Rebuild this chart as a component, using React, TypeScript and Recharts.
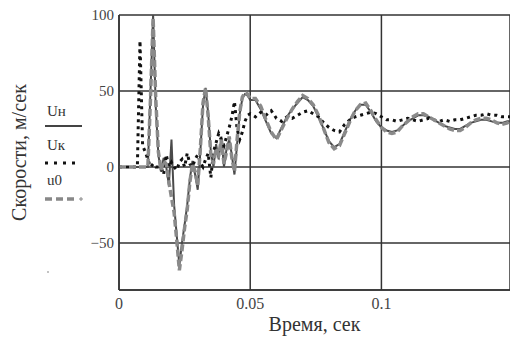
import React from "react";
import {
  LineChart,
  Line,
  CartesianGrid,
  XAxis,
  YAxis,
  Legend,
  Text,
} from "recharts";

// time grid, sec (1 ms steps up to 0.049, then 2 ms)
const times = [
  0, 0.001, 0.002, 0.003, 0.004, 0.005, 0.006, 0.007, 0.008, 0.009,
  0.01, 0.011, 0.012, 0.013, 0.014, 0.015, 0.016, 0.017, 0.018, 0.019,
  0.02, 0.021, 0.022, 0.023, 0.024, 0.025, 0.026, 0.027, 0.028, 0.029,
  0.03, 0.031, 0.032, 0.033, 0.034, 0.035, 0.036, 0.037, 0.038, 0.039,
  0.04, 0.041, 0.042, 0.043, 0.044, 0.045, 0.046, 0.047, 0.048, 0.049,
  0.05, 0.052, 0.054, 0.056, 0.058, 0.06, 0.062, 0.064, 0.066, 0.068,
  0.07, 0.072, 0.074, 0.076, 0.078, 0.08, 0.082, 0.084, 0.086, 0.088,
  0.09, 0.092, 0.094, 0.096, 0.098, 0.1, 0.102, 0.104, 0.106, 0.108,
  0.11, 0.112, 0.114, 0.116, 0.118, 0.12, 0.122, 0.124, 0.126, 0.128,
  0.13, 0.132, 0.134, 0.136, 0.138, 0.14, 0.142, 0.144, 0.146, 0.148,
  0.149,
];

const uN = [
  0, 0, 0, 0, 0, 0, 0, 0, 0, 0,
  0, 0, 50, 100, 40, 8, -3, 6, 0, -12,
  18, -25, -45, -65, -50, -38, -25, -8, 4, -5,
  -15, 10, 40, 52, 35, 10, 0, 15, 5, 20,
  0, 12, 18, 8, -5, 15, 35, 45, 48, 47,
  44, 44, 38, 30, 22, 19, 26, 33, 38, 42,
  46, 44, 40, 33, 25, 17, 13, 15, 23, 31,
  37, 41, 41, 36, 30, 26, 24, 23, 24, 27,
  30, 32, 34, 34, 33, 31, 29, 27, 26, 25,
  25, 27, 29, 30, 31, 31, 30, 29, 29, 30,
  30,
];

const uK = [
  0, 0, 0, 0, 0, 0, 0, 0, 83, 14,
  10, 5, 0, 2, 0, 0, 0, -5, 8, 0,
  3, 0, -2, 3, 5, 0, 9, 2, 0, 5,
  8, 3, 0, 5, 9, -7, 10, 16, 22, 18,
  14, 20, 26, 33, 43, 25, 18, 23, 30, 34,
  35, 33, 36, 34, 37, 32, 30, 33, 32, 34,
  36, 37, 35, 33, 29, 26, 24, 23, 28, 31,
  33, 34, 35, 36, 35, 33, 31, 31, 30, 31,
  32, 31, 30, 31, 32, 31, 30, 31, 30, 31,
  31, 32, 33, 34, 34, 35, 34, 34, 33, 33,
  33,
];

const u0 = [
  0, 0, 0, 0, 0, 0, 0, 0, 0, 0,
  0, 0, 45, 98, 45, 10, -2, 4, 2, -10,
  -20, -30, -48, -68, -55, -40, -28, -10, 2, -3,
  -12, 12, 42, 52, 33, 8, 2, 12, 8, 18,
  2, 10, 20, 6, -3, 18, 36, 46, 49, 48,
  45, 45, 40, 31, 23, 18, 25, 32, 38, 43,
  47, 45, 41, 34, 25, 16, 12, 14, 22, 30,
  37, 41, 42, 37, 31, 26, 23, 22, 23, 27,
  30, 33, 35, 35, 33, 31, 29, 27, 25, 24,
  24, 26, 29, 31, 32, 32, 31, 29, 28, 29,
  30,
];

const seriesNames = ["Uн", "Uк", "u0"];
const xTicks = [0, 0.05, 0.1];
const yTicks = [-50, 0, 50, 100];

const data = times.map((t, i) => ({ t, uN: uN[i], uK: uK[i], u0: u0[i] }));

const GRID = "#333";

const YTitle = (props: any) => {
  const { viewBox } = props;
  const cx = viewBox.x + 19;
  const cy = viewBox.y + viewBox.height / 2;
  return (
    <Text
      x={cx}
      y={cy}
      angle={-90}
      textAnchor="middle"
      verticalAnchor="middle"
      fontFamily="Tinos"
      fontSize={20}
      fill="#333"
    >
      Скорости, м/сек
    </Text>
  );
};

const XTitle = (props: any) => {
  const { viewBox } = props;
  return (
    <text
      x={viewBox.x + viewBox.width / 2}
      y={viewBox.y + 34}
      textAnchor="middle"
      dominantBaseline="central"
      fontFamily="serif"
      fontSize={20}
      fill="#333"
    >
      Время, сек
    </text>
  );
};

const legendText: React.CSSProperties = {
  position: "absolute",
  left: 47,
  fontFamily: "serif",
  fontSize: 15,
  lineHeight: "15px",
  color: "#333",
};

// Mathcad-style stacked legend on the left
const SideLegend = () => {
  const tops = [104, 138, 173];
  return (
    <div style={{ position: "relative", width: 119, height: 349 }}>
      <svg width={119} height={349} style={{ position: "absolute", left: 0, top: 0 }}>
        <line x1={45} x2={82} y1={126} y2={126} stroke="#444" strokeWidth={2} />
        <line
          x1={45}
          x2={76}
          y1={163}
          y2={163}
          stroke="#111"
          strokeWidth={3}
          strokeDasharray="3 6"
        />
        <line
          x1={45}
          x2={74}
          y1={199}
          y2={199}
          stroke="#888"
          strokeWidth={3.5}
          strokeDasharray="7 4"
        />
        <line x1={79} x2={83} y1={199} y2={199} stroke="#888" strokeWidth={1} />
        <line x1={81} x2={81} y1={197} y2={201} stroke="#888" strokeWidth={1} />
        <circle cx={48} cy={272} r={0.8} fill="#777" />
      </svg>
      {seriesNames.map((name, i) => (
        <div key={name} style={{ ...legendText, top: tops[i] }}>
          {name}
        </div>
      ))}
    </div>
  );
};

const App = () => (
  <div style={{ position: "absolute", left: 0, top: 0 }}>
    <LineChart
      width={510}
      height={349}
      data={data}
      margin={{ top: 15, right: 0, bottom: 0, left: 0 }}
    >
      <CartesianGrid stroke={GRID} strokeWidth={1.5} />
      <XAxis
        dataKey="t"
        type="number"
        domain={[0, 0.149]}
        ticks={xTicks}
        allowDataOverflow
        height={59}
        tickLine={false}
        tickSize={4}
        tickMargin={4}
        stroke={GRID}
        strokeWidth={1.5}
        tick={{ fontFamily: "Times New Roman", fontSize: 16, fill: "#444" }}
        tickFormatter={(v: number) => String(v)}
        label={<XTitle />}
      />
      <YAxis
        type="number"
        domain={[-81, 100]}
        ticks={yTicks}
        allowDataOverflow
        width={119}
        tickLine={false}
        tickSize={4}
        tickMargin={1}
        stroke={GRID}
        strokeWidth={1.5}
        tick={{ fontFamily: "serif", fontSize: 15, fill: "#444" }}
        tickFormatter={(v: number) => (v < 0 ? "\u2212" + Math.abs(v) : String(v))}
        label={<YTitle />}
      />
      <Legend
        layout="horizontal"
        verticalAlign="middle"
        align="center"
        content={<SideLegend />}
        wrapperStyle={{ left: 0, top: 0, width: 119, height: 349 }}
      />
      <Line
        dataKey="uN"
        name={seriesNames[0]}
        stroke="#4a4a4a"
        strokeWidth={2}
        dot={false}
        isAnimationActive={false}
      />
      <Line
        dataKey="uK"
        name={seriesNames[1]}
        stroke="#111"
        strokeWidth={3}
        strokeDasharray="3 4"
        dot={false}
        isAnimationActive={false}
      />
      <Line
        dataKey="u0"
        name={seriesNames[2]}
        stroke="#8a8a8a"
        strokeWidth={3.5}
        strokeDasharray="7 3"
        dot={false}
        isAnimationActive={false}
      />
    </LineChart>
  </div>
);

export default App;
